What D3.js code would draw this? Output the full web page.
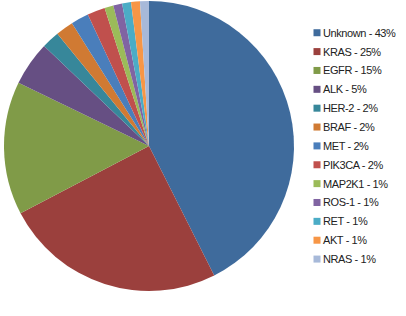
<!DOCTYPE html>
<head>
    <meta charset="utf-8">
    <style>
      body {
          margin: 0;
          background: #fff;
          font-family: 'Liberation Sans', Arial, sans-serif;
      }
      .legend text {
          font-size: 11px;
          letter-spacing: -0.4px;
          fill: #222;
      }
  </style>
</head>
<body>
<svg id="chart" width="406" height="316"></svg>
<script src="https://cdn.jsdelivr.net/npm/d3@7"></script>
<script>
  var genes = ["Unknown", "KRAS", "EGFR", "ALK", "HER-2", "BRAF", "MET",
               "PIK3CA", "MAP2K1", "ROS-1", "RET", "AKT", "NRAS"];
  var shares = [43, 25, 15, 5, 2, 2, 2, 2, 1, 1, 1, 1, 1];
  var colors = ["#3f6b9c", "#9b403d", "#809b48", "#664f83", "#37879a", "#d07a33", "#4a7ebb",
                "#c0504d", "#9bbb59", "#8064a2", "#4bacc6", "#f79646", "#a7b9d9"];

  var svg = d3.select("#chart");
  var radius = 145;

  var g = svg.append("g").attr("transform", "translate(149,146)");

  var pie = d3.pie().sort(null).value(function(d) { return d; });
  var arc = d3.arc().innerRadius(0).outerRadius(radius);

  g.selectAll("path")
      .data(pie(shares))
    .enter().append("path")
      .attr("d", arc)
      .attr("fill", function(d, i) { return colors[i]; });

  // legend
  var y = d3.scaleBand()
      .domain(genes)
      .range([23.3, 268.5]);

  var legend = svg.append("g").attr("class", "legend");
  var rows = legend.selectAll("g")
      .data(genes)
    .enter().append("g")
      .attr("transform", function(d) { return "translate(0," + (y(d) + y.bandwidth() / 2) + ")"; });

  rows.append("rect")
      .attr("x", 313.5)
      .attr("y", -3.5)
      .attr("width", 7)
      .attr("height", 7)
      .attr("fill", function(d, i) { return colors[i]; });

  rows.append("text")
      .attr("x", 323)
      .attr("dy", "0.36em")
      .text(function(d, i) { return d + " - " + shares[i] + "%"; });
</script>
</body>
